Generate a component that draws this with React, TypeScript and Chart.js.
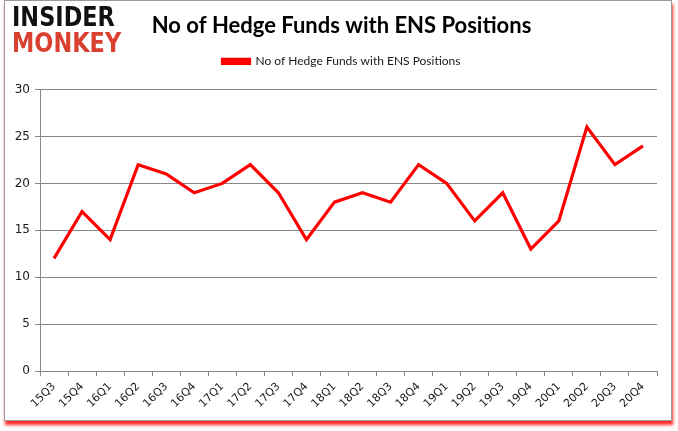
import React, { useEffect, useRef } from 'react';
import { Chart, registerables } from 'chart.js';

Chart.register(...registerables);

const quarters = [
  '15Q3', '15Q4', '16Q1', '16Q2', '16Q3', '16Q4', '17Q1', '17Q2', '17Q3', '17Q4', '18Q1',
  '18Q2', '18Q3', '18Q4', '19Q1', '19Q2', '19Q3', '19Q4', '20Q1', '20Q2', '20Q3', '20Q4',
];
const hedgeFunds = [12, 17, 14, 22, 21, 19, 20, 22, 19, 14, 18, 19, 18, 22, 20, 16, 19, 13, 16, 26, 22, 24];
const seriesName = 'No of Hedge Funds with ENS Positions';

// nudges title and legend to the right, as in the original picture
const shiftHeader = {
  id: 'shiftHeader',
  afterLayout(chart: any) {
    const dx = 13;
    [chart.titleBlock, chart.legend].forEach((box: any) => {
      if (box) {
        box.left += dx;
        box.right += dx;
      }
    });
  },
};

const App = () => {
  const chartRef = useRef<HTMLCanvasElement>(null);

  useEffect(() => {
    document.body.style.margin = '0';
    if (!chartRef.current) return;

    const chartInstance = new Chart(chartRef.current, {
      type: 'line',
      data: {
        labels: quarters,
        datasets: [
          {
            label: seriesName,
            data: hedgeFunds,
            borderColor: '#ff0000',
            backgroundColor: '#ff0000',
            borderWidth: 3.2,
            pointRadius: 0,
            tension: 0,
          },
        ],
      },
      options: {
        responsive: false,
        animation: false,
        devicePixelRatio: 1,
        layout: { padding: { left: 0, right: 21, top: 0, bottom: 0 } },
        plugins: {
          title: {
            display: true,
            text: seriesName,
            color: '#000',
            font: { family: 'Lato', size: 22, weight: 'bold' },
            padding: { top: 13, bottom: 10 },
          },
          // used only as empty space between legend and plot
          subtitle: {
            display: true,
            text: '',
            font: { size: 1 },
            padding: { top: 11, bottom: 0 },
          },
          legend: {
            display: true,
            weight: 1600,
            labels: {
              color: '#1a1a1a',
              font: { family: 'Lato', size: 12 },
              boxWidth: 27,
              boxHeight: 4,
              padding: 6,
            },
          },
          tooltip: { enabled: false },
        },
        scales: {
          x: {
            offset: true,
            afterFit: (axis: any) => {
              axis.height = 60;
            },
            grid: {
              offset: true,
              drawOnChartArea: false,
              drawTicks: true,
              tickLength: 5,
              color: '#888',
            },
            border: { color: '#888', width: 1 },
            ticks: {
              color: '#1a1a1a',
              font: { family: 'DejaVu Sans', size: 11 },
              minRotation: 45,
              maxRotation: 45,
              autoSkip: false,
              padding: 4,
            },
          },
          y: {
            min: 0,
            max: 30,
            afterFit: (axis: any) => {
              axis.width = 40;
            },
            grid: {
              color: '#888',
              tickLength: 5,
            },
            border: { color: '#888', width: 1 },
            ticks: {
              stepSize: 5,
              color: '#1a1a1a',
              font: { family: 'DejaVu Sans', size: 12 },
              padding: 5,
            },
          },
        },
      },
      plugins: [shiftHeader],
    });

    return () => {
      chartInstance.destroy();
    };
  }, []);

  return (
    <div style={{ position: 'relative', width: 678, height: 431, background: '#fff' }}>
      {/* outer frame with red shadow */}
      <div
        style={{
          position: 'absolute',
          left: 4,
          top: 0,
          width: 666,
          height: 419,
          border: '1px solid #9a9a9a',
          boxShadow: '1px 4px 3px rgba(255,0,0,0.85)',
          background: '#fff',
        }}
      />
      <canvas ref={chartRef} width={678} height={431} style={{ position: 'absolute', left: 0, top: 0 }} />
      <div
        style={{
          position: 'absolute',
          left: 12,
          top: 4,
          fontFamily: '"DejaVu Sans", sans-serif',
          fontWeight: 900,
          fontSize: 22,
          lineHeight: '22px',
          letterSpacing: 0,
          transform: 'scale(1.02, 1.2)',
          transformOrigin: 'left top',
        }}
      >
        <div style={{ color: '#111' }}>INSIDER</div>
        <div style={{ color: '#d9402f' }}>MONKEY</div>
      </div>
    </div>
  );
};

export default App;
